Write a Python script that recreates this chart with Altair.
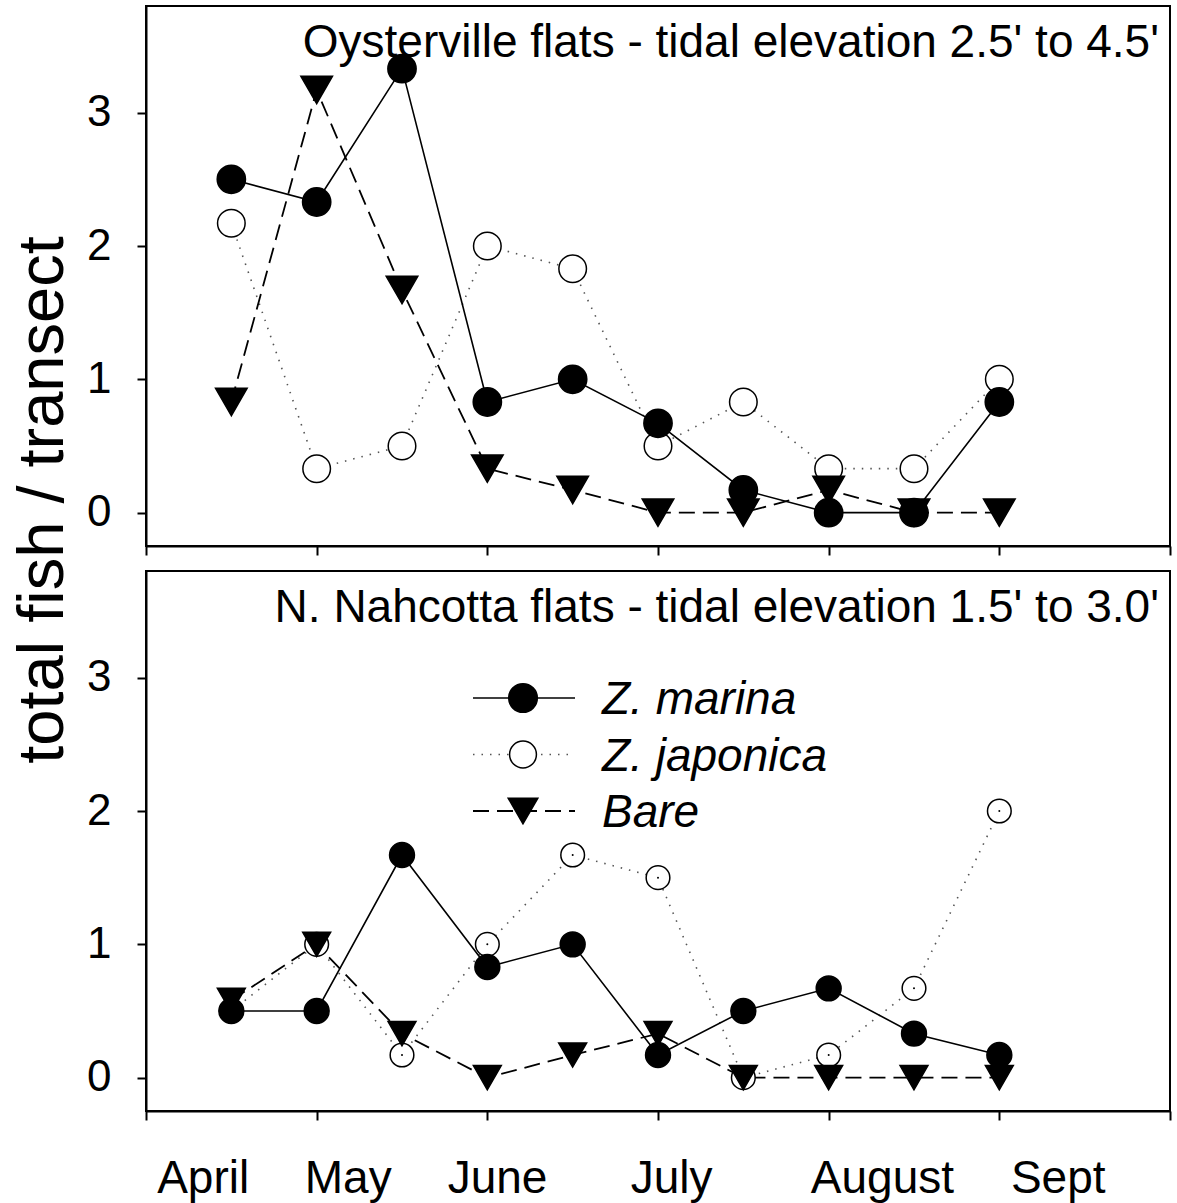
import altair as alt
import pandas as pd

# ---------------- data ----------------
samples = [1, 2, 3, 4, 5, 6, 7, 8, 9, 10]
series_names = ["Z. marina", "Z. japonica", "Bare"]

oyster_marina = [2.5, 2.33, 3.33, 0.83, 1.0, 0.67, 0.17, 0.0, 0.0, 0.83]
oyster_japonica = [2.17, 0.33, 0.5, 2.0, 1.83, 0.5, 0.83, 0.33, 0.33, 1.0]
oyster_bare = [0.83, 3.17, 1.67, 0.33, 0.17, 0.0, 0.0, 0.17, 0.0, 0.0]

nahcotta_marina = [0.5, 0.5, 1.67, 0.83, 1.0, 0.17, 0.5, 0.67, 0.33, 0.17]
nahcotta_japonica = [0.5, 1.0, 0.17, 1.0, 1.67, 1.5, 0.0, 0.17, 0.67, 2.0]
nahcotta_bare = [0.58, 1.0, 0.33, 0.0, 0.17, 0.33, 0.0, 0.0, 0.0, 0.0]

month_labels = ["April", "May", "June", "July", "August", "Sept"]
month_label_pos = [0.67, 2.37, 4.12, 6.16, 8.63, 10.69]
x_ticks = [0, 2, 4, 6, 8, 10, 12]
y_ticks = [0, 1, 2, 3]

panel_titles = [
    "Oysterville flats - tidal elevation 2.5' to 4.5'",
    "N. Nahcotta flats - tidal elevation 1.5' to 3.0'",
]
y_title = "total fish / transect"

# ---------------- styling ----------------
FONT = "Liberation Sans"
FS = 46
W, H = 1024, 540

STYLE = {
    "Z. marina": dict(shape="circle", fill="black", dash=None, lc="black", lw=1.6),
    "Z. japonica": dict(shape="circle", fill="white", dash=[1.5, 7], lc="#555555", lw=1.6),
    "Bare": dict(shape="triangle-down", fill="black", dash=[16, 8], lc="black", lw=1.8),
}
DRAW_ORDER = ["Z. japonica", "Bare", "Z. marina"]

TOP_SIZES = {"Z. marina": 800, "Z. japonica": 760, "Bare": 1000}
BOTTOM_SIZES = {"Z. marina": 620, "Z. japonica": 560, "Bare": 780}
LEGEND_SIZES = {"Z. marina": 820, "Z. japonica": 720, "Bare": 880}


def long_frame(values_by_series):
    rows = []
    for name, vals in values_by_series.items():
        for i, v in zip(samples, vals):
            rows.append({"series": name, "idx": i, "value": v})
    return pd.DataFrame(rows)


dummy = pd.DataFrame({"d": [0]})


def make_panel(values_by_series, title, sizes, bottom):
    df = long_frame(values_by_series)
    xenc = alt.X(
        "idx:Q",
        scale=alt.Scale(domain=[0, 12], nice=False, zero=False),
        axis=alt.Axis(values=x_ticks, labels=False, title=None, grid=False, tickSize=9),
    )
    yenc = alt.Y(
        "value:Q",
        scale=alt.Scale(domain=[-0.25, 3.8], nice=False, zero=False),
        axis=alt.Axis(values=y_ticks, title=None, grid=False, tickSize=9,
                      labelPadding=26, format="d"),
    )
    base = alt.Chart(df).encode(x=xenc, y=yenc)
    layers = []
    for name in DRAW_ORDER:
        st = STYLE[name]
        kw = dict(color=st["lc"], strokeWidth=st["lw"])
        if st["dash"]:
            kw["strokeDash"] = st["dash"]
        layers.append(base.transform_filter(alt.datum.series == name).mark_line(**kw))
    for name in DRAW_ORDER:
        st = STYLE[name]
        layers.append(
            base.transform_filter(alt.datum.series == name).mark_point(
                shape=st["shape"], filled=True, fill=st["fill"], stroke="black",
                strokeWidth=1.5, size=sizes[name], opacity=1,
            )
        )
    # panel title inside the plot
    layers.append(
        alt.Chart(dummy).mark_text(
            align="right", baseline="alphabetic", font=FONT, fontSize=FS, color="black"
        ).encode(x=alt.value(W - 11), y=alt.value(51), text=alt.value(title))
    )
    if bottom:
        # little centre dot in open circles
        layers.append(
            base.transform_filter(alt.datum.series == "Z. japonica").mark_circle(
                size=4, color="black", opacity=1
            )
        )
        # legend
        for k, name in enumerate(series_names):
            st = STYLE[name]
            yy = 127 + 56.5 * k
            rkw = dict(color=st["lc"], strokeWidth=st["lw"])
            if st["dash"]:
                rkw["strokeDash"] = st["dash"]
            layers.append(
                alt.Chart(dummy).mark_rule(**rkw).encode(
                    x=alt.value(327), x2=alt.value(429), y=alt.value(yy)
                )
            )
            layers.append(
                alt.Chart(dummy).mark_point(
                    shape=st["shape"], filled=True, fill=st["fill"], stroke="black",
                    strokeWidth=1.5, size=LEGEND_SIZES[name], opacity=1,
                ).encode(x=alt.value(377), y=alt.value(yy))
            )
            layers.append(
                alt.Chart(dummy).mark_text(
                    align="left", baseline="middle", font=FONT, fontSize=FS,
                    fontStyle="italic", color="black", dy=2,
                ).encode(x=alt.value(456), y=alt.value(yy), text=alt.value(name))
            )
        # month labels
        mdf = pd.DataFrame({"m": month_labels, "idx": month_label_pos})
        layers.append(
            alt.Chart(mdf).mark_text(
                baseline="alphabetic", font=FONT, fontSize=FS, color="black"
            ).encode(x=alt.X("idx:Q"), y=alt.value(H + 82), text="m:N")
        )
    return alt.layer(*layers).properties(width=W, height=H)


top = make_panel(
    {"Z. marina": oyster_marina, "Z. japonica": oyster_japonica, "Bare": oyster_bare},
    panel_titles[0], TOP_SIZES, False,
)
bottom = make_panel(
    {"Z. marina": nahcotta_marina, "Z. japonica": nahcotta_japonica, "Bare": nahcotta_bare},
    panel_titles[1], BOTTOM_SIZES, True,
)

chart = (
    alt.vconcat(top, bottom, spacing=25, bounds="flush")
    .properties(
        title=alt.TitleParams(
            y_title, orient="left", anchor="middle", font=FONT, fontSize=65,
            fontWeight="normal", color="black", offset=9, dx=104,
        ),
        padding={"left": 10, "top": 5, "right": 2, "bottom": 2},
    )
    .configure_view(stroke="black", strokeWidth=2)
    .configure_axis(
        domainColor="black", domainWidth=2, tickColor="black", tickWidth=2,
        labelColor="black", labelFont=FONT, labelFontSize=44,
    )
)

chart.save("out.html", embed_options={"renderer": "svg", "actions": False})
